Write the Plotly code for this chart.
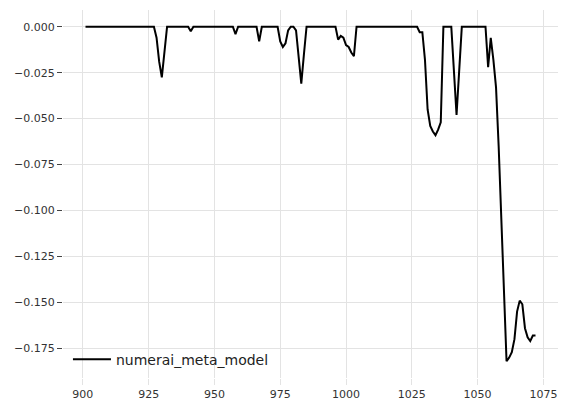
import plotly.graph_objects as go

rounds = list(range(901, 1073))
drawdown = [
    # 901-927
    0, 0, 0, 0, 0, 0, 0, 0, 0, 0,
    0, 0, 0, 0, 0, 0, 0, 0, 0, 0,
    0, 0, 0, 0, 0, 0, 0,
    # 928-931
    -0.006, -0.019, -0.0275, -0.014,
    # 932-940
    0, 0, 0, 0, 0, 0, 0, 0, 0,
    # 941
    -0.0025,
    # 942-957
    0, 0, 0, 0, 0, 0, 0, 0, 0, 0, 0, 0, 0, 0, 0, 0,
    # 958
    -0.004,
    # 959-966
    0, 0, 0, 0, 0, 0, 0, 0,
    # 967
    -0.008,
    # 968-974
    0, 0, 0, 0, 0, 0, 0,
    # 975-984
    -0.008, -0.011, -0.009, -0.002, 0, 0, -0.002, -0.018, -0.031, -0.015,
    # 985-996
    0, 0, 0, 0, 0, 0, 0, 0, 0, 0, 0, 0,
    # 997-1003
    -0.007, -0.005, -0.006, -0.010, -0.011, -0.014, -0.016,
    # 1004-1027
    0, 0, 0, 0, 0, 0, 0, 0, 0, 0, 0, 0,
    0, 0, 0, 0, 0, 0, 0, 0, 0, 0, 0, 0,
    # 1028-1036
    -0.003, -0.003, -0.018, -0.045, -0.054, -0.057, -0.059, -0.056, -0.052,
    # 1037-1040
    0, 0, 0, 0,
    # 1041-1043
    -0.024, -0.048, -0.024,
    # 1044-1053
    0, 0, 0, 0, 0, 0, 0, 0, 0, 0,
    # 1054-1072
    -0.022, -0.006, -0.018, -0.033, -0.065, -0.108, -0.148, -0.182, -0.180,
    -0.177, -0.170, -0.155, -0.149, -0.151, -0.164, -0.169, -0.171, -0.168,
    -0.168,
]

x_ticks = [900, 925, 950, 975, 1000, 1025, 1050, 1075]
y_ticks = [0.0, -0.025, -0.05, -0.075, -0.1, -0.125, -0.15, -0.175]
y_labels = ['0.000', '\u22120.025', '\u22120.050', '\u22120.075',
            '\u22120.100', '\u22120.125', '\u22120.150', '\u22120.175']

font_family = 'DejaVu Sans'
grid_col = '#e3e3e3'

fig = go.Figure()
fig.add_trace(go.Scatter(
    x=rounds, y=drawdown,
    mode='lines',
    name='numerai_meta_model',
    line=dict(color='black', width=2),
))

fig.update_layout(
    width=568, height=409,
    margin=dict(l=63, r=10, t=10, b=31),
    paper_bgcolor='white',
    plot_bgcolor='white',
    font=dict(family=font_family, size=11, color='#333333'),
    showlegend=True,
    legend=dict(
        x=0.01, y=0.05, xanchor='left', yanchor='middle',
        itemwidth=38,
        bgcolor='rgba(0,0,0,0)',
        font=dict(family=font_family, size=14, color='#222222'),
    ),
)

fig.update_xaxes(
    automargin=False,
    range=[892.45, 1080.55],
    tickvals=x_ticks,
    showgrid=True, gridcolor=grid_col, gridwidth=1.3,
    zeroline=False, showline=False,
    ticks='outside', ticklen=6, tickcolor=grid_col, tickwidth=1.3,
    tickfont=dict(size=11, color='#333333'),
)
fig.update_yaxes(
    automargin=False,
    range=[-0.1911, 0.0091],
    tickvals=y_ticks, ticktext=y_labels,
    showgrid=True, gridcolor=grid_col, gridwidth=1.3,
    zeroline=False, showline=False,
    ticks='outside', ticklen=5, tickcolor='#444444', tickwidth=1,
    tickfont=dict(size=11, color='#333333'),
)

# body has a default 8px margin, drop it so the figure fills the window
fig.write_html("out.html", config={'displayModeBar': False},
               post_script="document.body.style.margin='0';")
